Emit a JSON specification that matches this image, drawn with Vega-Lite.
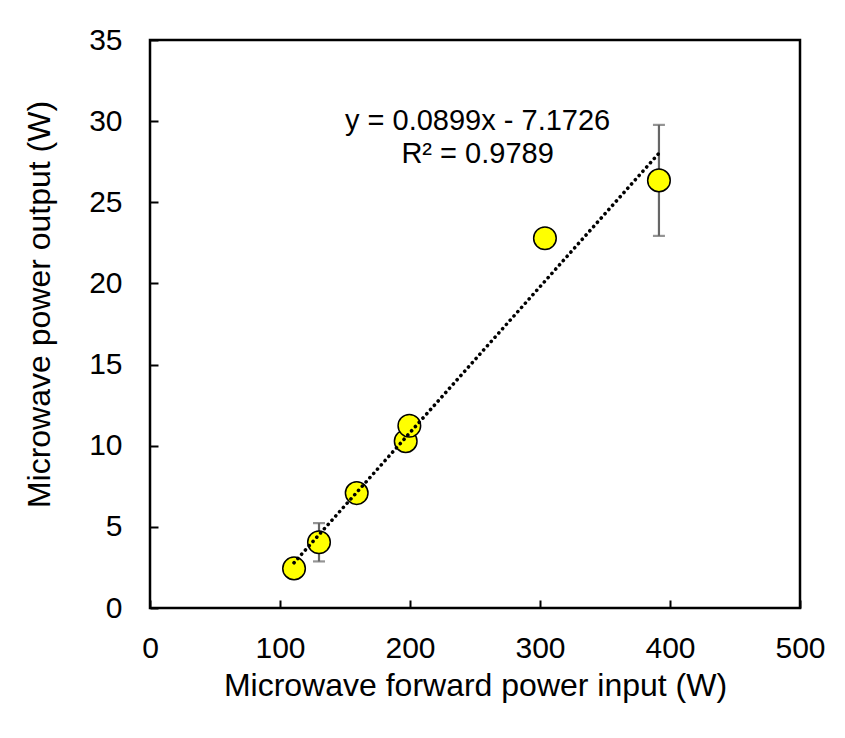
{
  "$schema": "https://vega.github.io/schema/vega-lite/v6.json",
  "width": 650,
  "height": 568,
  "autosize": "none",
  "padding": {"left": 150, "top": 40, "right": 45, "bottom": 130},
  "background": "white",
  "config": {
    "font": "Liberation Sans",
    "view": {"stroke": "#000000", "strokeWidth": 2.5},
    "axis": {
      "domain": false,
      "grid": false,
      "tickSize": -8,
      "tickWidth": 2,
      "tickColor": "#000000",
      "labelFontSize": 30,
      "labelColor": "#000000",
      "labelFlush": false,
      "titleFontSize": 32,
      "titleFontWeight": "normal",
      "titleColor": "#000000"
    }
  },
  "datasets": {
    "points": [
      {"input": 110.8, "output": 2.44},
      {"input": 130, "output": 4.05},
      {"input": 159, "output": 7.08},
      {"input": 196.7, "output": 10.28},
      {"input": 199.5, "output": 11.23},
      {"input": 303.8, "output": 22.78},
      {"input": 391.5, "output": 26.35}
    ],
    "errors": [
      {"input": 130, "low": 2.87, "high": 5.23},
      {"input": 391.5, "low": 22.93, "high": 29.77}
    ],
    "trend": [
      {"input": 110.8, "output": 2.789},
      {"input": 391.5, "output": 28.023}
    ],
    "note": [
      {"label": "y = 0.0899x - 7.1726\nR² = 0.9789"}
    ]
  },
  "layer": [
    {
      "data": {"name": "errors"},
      "mark": {"type": "errorbar", "ticks": {"size": 12}, "thickness": 2.2, "color": "#666666"},
      "encoding": {
        "x": {"field": "input", "type": "quantitative", "scale": {"domain": [0, 500], "nice": false},
          "axis": {"values": [0, 100, 200, 300, 400, 500], "labelPadding": 33, "titlePadding": 7},
          "title": "Microwave forward power input (W)"},
        "y": {"field": "low", "type": "quantitative", "scale": {"domain": [0, 35], "nice": false},
          "axis": {"values": [0, 5, 10, 15, 20, 25, 30, 35], "labelPadding": 36, "titlePadding": 32, "titleY": 264},
          "title": "Microwave power output (W)"},
        "y2": {"field": "high"}
      }
    },
    {
      "data": {"name": "points"},
      "mark": {"type": "circle", "size": 510, "fill": "#FFFF00", "stroke": "#000000", "strokeWidth": 1.5, "opacity": 1},
      "encoding": {
        "x": {"field": "input", "type": "quantitative"},
        "y": {"field": "output", "type": "quantitative"}
      }
    },
    {
      "data": {"name": "trend"},
      "mark": {"type": "line", "color": "#000000", "strokeWidth": 3.6, "strokeDash": [0.1, 5.6], "strokeCap": "round"},
      "encoding": {
        "x": {"field": "input", "type": "quantitative"},
        "y": {"field": "output", "type": "quantitative"}
      }
    },
    {
      "data": {"name": "note"},
      "mark": {"type": "text", "fontSize": 29, "lineBreak": "\n", "lineHeight": 33, "align": "center", "baseline": "middle", "color": "#000000"},
      "encoding": {
        "x": {"datum": 252},
        "y": {"datum": 30.0},
        "text": {"field": "label"}
      }
    }
  ]
}
